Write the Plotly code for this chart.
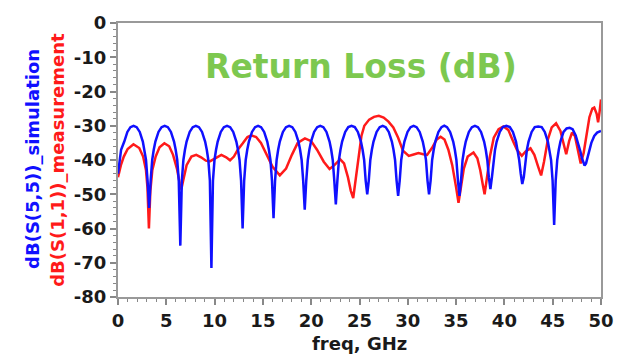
import plotly.graph_objects as go

# ---- data ----
sim_freq = [
    0, 0.15, 0.32, 0.65, 0.97, 1.29, 1.61, 1.93, 2.25, 2.57, 2.74, 2.9, 3.06, 3.22,
    3.38, 3.54, 3.70, 3.87, 4.19, 4.51, 4.835, 5.16, 5.48, 5.80, 5.97, 6.13, 6.29, 6.45,
    6.61, 6.77, 6.93, 7.10, 7.42, 7.74, 8.06, 8.38, 8.70, 9.02, 9.19, 9.35, 9.51, 9.67,
    9.83, 9.99, 10.15, 10.32, 10.64, 10.96, 11.285, 11.61, 11.93, 12.25, 12.42, 12.58, 12.74, 12.9,
    13.06, 13.22, 13.38, 13.55, 13.87, 14.19, 14.5, 14.81, 15.13, 15.45, 15.62, 15.78, 15.94, 16.1,
    16.26, 16.42, 16.58, 16.75, 17.07, 17.39, 17.715, 18.04, 18.36, 18.68, 18.85, 19.01, 19.17, 19.33,
    19.49, 19.65, 19.81, 19.98, 20.30, 20.62, 20.94, 21.26, 21.58, 21.90, 22.07, 22.23, 22.39, 22.55,
    22.71, 22.87, 23.03, 23.20, 23.52, 23.84, 24.175, 24.51, 24.83, 25.15, 25.32, 25.48, 25.64, 25.8,
    25.96, 26.12, 26.28, 26.45, 26.77, 27.09, 27.4, 27.71, 28.03, 28.35, 28.52, 28.68, 28.84, 29.0,
    29.16, 29.32, 29.48, 29.65, 29.97, 30.29, 30.6, 30.91, 31.23, 31.55, 31.72, 31.88, 32.04, 32.2,
    32.36, 32.52, 32.68, 32.85, 33.17, 33.49, 33.775, 34.06, 34.38, 34.70, 34.87, 35.03, 35.19, 35.35,
    35.51, 35.67, 35.83, 36.0, 36.32, 36.64, 36.95, 37.26, 37.58, 37.90, 38.07, 38.23, 38.39, 38.55,
    38.71, 38.87, 39.03, 39.2, 39.52, 39.84, 40.2, 40.56, 40.88, 41.2, 41.37, 41.53, 41.69, 41.85,
    42.01, 42.17, 42.33, 42.5, 42.82, 43.14, 43.5, 43.86, 44.18, 44.5, 44.67, 44.83, 44.99, 45.15,
    45.31, 45.47, 45.63, 45.8, 46.12, 46.44, 46.75, 47.06, 47.38, 47.7, 47.87, 48.03, 48.17, 48.3,
    48.45, 48.6, 48.8, 49.0, 49.3, 49.6, 50.0,
]
sim_db = [
    -44, -40, -37, -34.6, -31.8, -30.4, -30, -30.4, -31.8, -34.6, -37, -40, -46, -54,
    -46, -40, -37, -34.6, -31.8, -30.4, -30, -30.4, -31.8, -34.6, -37, -40, -46, -65,
    -46, -40, -37, -34.6, -31.8, -30.4, -30, -30.4, -31.8, -34.6, -37, -40, -46, -71.5,
    -46, -40, -37, -34.6, -31.8, -30.4, -30, -30.4, -31.8, -34.6, -37, -40, -46, -60,
    -46, -40, -37, -34.6, -31.8, -30.4, -30, -30.4, -31.8, -34.6, -37, -40, -46, -57,
    -46, -40, -37, -34.6, -31.8, -30.4, -30, -30.4, -31.8, -34.6, -37, -40, -46, -54.5,
    -46, -40, -37, -34.6, -31.8, -30.4, -30, -30.4, -31.8, -34.6, -37, -40, -46, -53,
    -46, -40, -37, -34.6, -31.8, -30.4, -30, -30.4, -31.8, -34.6, -37, -40, -46, -50,
    -46, -40, -37, -34.6, -31.8, -30.4, -30, -30.4, -31.8, -34.6, -37, -40, -46, -50.5,
    -46, -40, -37, -34.6, -31.8, -30.4, -30, -30.4, -31.8, -34.6, -37, -40, -46, -50,
    -46, -40, -37, -34.6, -31.8, -30.4, -30, -30.4, -31.8, -34.6, -37, -40, -46, -50.5,
    -46, -40, -37, -34.6, -31.8, -30.4, -30, -30.4, -31.8, -34.6, -37, -40, -45, -48.5,
    -45, -40, -37, -34.6, -31.8, -30.4, -30, -30.4, -31.8, -34.6, -37, -40, -44, -47,
    -45, -40, -37, -34.6, -31.8, -30.4, -30.2, -30.4, -31.8, -34.6, -37, -40, -46, -59,
    -46, -40, -37, -34.6, -31.8, -30.8, -30.6, -31, -32.8, -35.5, -37.5, -39.5, -41, -41.6,
    -41, -39.5, -37, -35, -33, -32, -31.5,
]

meas_freq = [
    0, 0.3, 0.6, 1.0, 1.6, 2.2, 2.6, 2.9, 3.05, 3.2, 3.35, 3.55, 3.9, 4.3, 4.8, 5.3,
    5.7, 6.1, 6.4, 6.55, 6.75, 7.1, 7.6, 8.1, 8.6, 9.1, 9.5, 10.0, 10.7, 11.2, 11.6,
    12.0, 12.4, 12.9, 13.4, 13.8, 14.3, 14.8, 15.4, 16.0, 16.75, 17.4, 18.0, 18.6,
    19.35, 20.0, 20.6, 21.3, 21.9, 22.4, 23.0, 23.4, 23.8, 24.1, 24.35, 24.6, 24.9,
    25.2, 25.5, 26.0, 26.5, 27.0, 27.5, 28.0, 28.5, 29.0, 29.5, 30.1, 30.6, 31.1,
    31.6, 32.0, 32.5, 33.0, 33.4, 33.8, 34.2, 34.6, 35.0, 35.25, 35.5, 35.8, 36.2,
    36.8, 37.2, 37.5, 37.75, 37.95, 38.15, 38.5, 38.9, 39.4, 39.9, 40.4, 40.9, 41.3,
    41.8, 42.2, 42.7, 43.1, 43.5, 43.8, 44.1, 44.5, 44.9, 45.35, 45.8, 46.1, 46.4,
    46.7, 47.0, 47.3, 47.6, 47.9, 48.2, 48.5, 48.8, 49.1, 49.3, 49.55, 49.7, 49.85, 50.0,
]
meas_db = [
    -45, -41.5, -39, -36.8, -35.4, -36.5, -39, -43, -48, -60, -49, -43, -39, -36.3, -35.1, -36,
    -38.5, -42.5, -47, -48.6, -46, -41.5, -39, -38.5, -39.2, -40.2, -40.4, -39.5, -38.5, -39.2, -40.1,
    -39, -37, -35.2, -33.3, -32.8, -33.3, -35, -38.5, -42, -44.5, -42.5, -38.5, -35,
    -33.7, -34.5, -37, -40.5, -42.6, -41.5, -39.8, -41, -45, -49, -51.1, -46, -39,
    -33, -30, -28.2, -27.4, -27.1, -27.6, -28.8, -30.5, -33.5, -37.3, -38.8, -38.4, -38,
    -38.3, -38.5, -36.5, -34, -33.2, -34, -37, -41.5, -48, -52.5, -48, -42.5, -39,
    -37.8, -39.5, -43, -47, -50, -46, -39, -33.5, -31, -30.2, -31.2, -34.5, -37,
    -38.8, -37.5, -36.6, -38.5, -42, -44.5, -40.5, -34, -30.5, -29.3, -31.5, -35, -38.3,
    -34.5, -32, -33, -37, -41, -38, -32, -27.5, -25, -24.7, -26.5, -29, -26, -22.3,
]

y_ticks = [0, -10, -20, -30, -40, -50, -60, -70, -80]
x_ticks = [0, 5, 10, 15, 20, 25, 30, 35, 40, 45, 50]

BOLD = "DejaVu Sans"

fig = go.Figure()
fig.add_trace(go.Scatter(x=meas_freq, y=meas_db, mode="lines",
                         line=dict(color="#ff1a1a", width=2.5), name="dB(S(1,1))_measurement"))
fig.add_trace(go.Scatter(x=sim_freq, y=sim_db, mode="lines",
                         line=dict(color="#1010ff", width=2.5), name="dB(S(5,5))_simulation"))

axis_common = dict(
    showgrid=False, zeroline=False, showline=True, linecolor="#999999", linewidth=2,
    mirror=True, ticks="outside", tickcolor="#888888", tickwidth=1.5, ticklen=6,
    tickfont=dict(family=BOLD, size=18, color="#1a1a1a", weight="bold"),
)
fig.update_xaxes(range=[0, 50], tickvals=x_ticks, ticktext=[str(v) for v in x_ticks],
                 minor=dict(ticks="outside", dtick=1, ticklen=3, tickcolor="#888888", tickwidth=1.2),
                 **axis_common)
fig.update_yaxes(range=[-80, 0], tickvals=y_ticks, ticktext=[str(v) for v in y_ticks],
                 minor=dict(ticks="outside", dtick=2, ticklen=3, tickcolor="#888888", tickwidth=1.2),
                 **axis_common)

fig.add_annotation(text="Return Loss (dB)", xref="paper", yref="paper", x=0.504, y=0.842,
                   showarrow=False, xanchor="center", yanchor="middle",
                   font=dict(family=BOLD, size=33, color="#7dc84f", weight="bold"))
fig.add_annotation(text="freq, GHz", xref="paper", yref="paper", x=0.499, y=-0.171,
                   showarrow=False, xanchor="center", yanchor="middle",
                   font=dict(family=BOLD, size=18, color="#1a1a1a", weight="bold"))
fig.add_annotation(text="dB(S(5,5))_simulation", xref="paper", yref="paper", x=-0.1774, y=0.505,
                   showarrow=False, xanchor="center", yanchor="middle", textangle=-90,
                   font=dict(family=BOLD, size=18, color="#1010ff", weight="bold"))
fig.add_annotation(text="dB(S(1,1))_measurement", xref="paper", yref="paper", x=-0.1255, y=0.502,
                   showarrow=False, xanchor="center", yanchor="middle", textangle=-90,
                   font=dict(family=BOLD, size=18, color="#ff1a1a", weight="bold"))

fig.update_layout(width=633, height=362, autosize=False, showlegend=False,
                  margin=dict(l=118, r=32, t=17, b=65),
                  paper_bgcolor="white", plot_bgcolor="white")

fig.write_html("out.html")
